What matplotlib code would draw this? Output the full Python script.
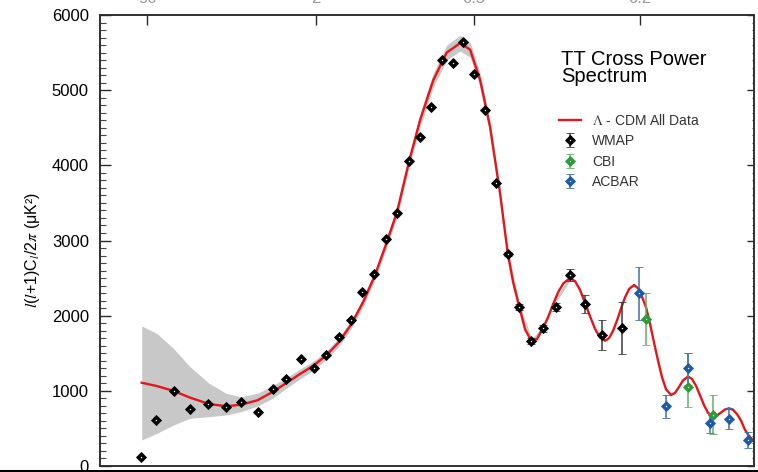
import numpy as np
import matplotlib
matplotlib.use("Agg")
import matplotlib.pyplot as plt
from matplotlib.lines import Line2D
from matplotlib.ticker import MultipleLocator, NullLocator
from matplotlib.legend_handler import HandlerTuple

plt.rcParams['font.family'] = ['Liberation Sans', 'DejaVu Sans']
plt.rcParams['mathtext.fontset'] = 'stix'

# ---------------- data ----------------
# WMAP binned TT spectrum: multipole, l(l+1)C_l/2pi [uK^2], 1-sigma error
wmap_l = [2, 2.5, 3.3, 4.2, 5.5, 7.2, 9, 11.5, 14.4, 17.6,
          22, 27, 32, 39, 47, 55, 66, 79, 94, 112,
          131, 151, 173, 196, 220, 247, 275, 304, 337, 370,
          406, 445, 490, 541, 597, 665, 749]
wmap_val = [115, 612, 1000, 758, 820, 789, 855, 723, 1020, 1157,
            1419, 1299, 1477, 1720, 1942, 2315, 2554, 3020, 3370, 4061,
            4371, 4780, 5401, 5357, 5636, 5215, 4736, 3769, 2820, 2119,
            1667, 1832, 2119, 2541, 2155, 1743, 1832]
wmap_err = [np.nan] * 28 + [30, 40, 40, 45, 55, 82, 126, 195, 348]

# CBI band powers with lower / upper limits
cbi_l = [853, 1061, 1189]
cbi_val = [1956, 1055, 678]
cbi_lo = [1610, 789, 426]
cbi_hi = [2306, 1499, 944]

# ACBAR band powers with lower / upper limits
acbar_l = [824, 948, 1061, 1175, 1281, 1391]
acbar_val = [2297, 798, 1300, 576, 625, 346]
acbar_lo = [1942, 643, 1077, 443, 492, 235]
acbar_hi = [2643, 944, 1499, 701, 768, 456]

# Best-fit Lambda-CDM model
model_l = [2.02, 2.53, 3.25, 4.17, 5.55, 7.17, 8.97, 11.5, 14.4, 17.6,
           21.8, 26.6, 32.2, 38.7, 46.8, 56.1, 67.1, 79.2, 93.4, 111.8,
           130.9, 156.0, 183.4, 212.9, 236.5, 261.3, 287.4, 314.7, 336.6, 352.1,
           370.0, 388.4, 409.5, 426.6, 445.3, 463.1, 480.2, 497.6, 516.4, 540.7,
           559.1, 577.9, 597.0, 616.4, 636.1, 656.1, 676.4, 692.9, 709.6, 726.5,
           743.6, 760.8, 778.3, 800.4, 818.3, 836.4, 854.8, 873.3, 892.0, 910.9,
           930.0, 949.3, 973.8, 993.5, 1013.5, 1033.6, 1059.1, 1079.7, 1100.5, 1121.4,
           1142.6, 1164.0, 1191.1, 1212.9, 1235.0, 1257.2, 1279.6, 1302.3, 1325.1, 1348.1,
           1371.3, 1394.7, 1418.4, 1448.2]
model_val = [1108, 1064, 1000, 910, 825, 795, 815, 875, 985, 1100,
             1225, 1335, 1470, 1640, 1880, 2180, 2540, 2950, 3380, 4050,
             4600, 5135, 5500, 5625, 5540, 5140, 4510, 3630, 2830, 2450,
             2130, 1820, 1650, 1689, 1830, 1977, 2150, 2310, 2430, 2500,
             2459, 2343, 2170, 1991, 1824, 1708, 1667, 1701, 1798, 1938,
             2097, 2245, 2355, 2408, 2366, 2250, 2110, 1890, 1640, 1400,
             1180, 1020, 945, 973, 1053, 1140, 1190, 1157, 1066, 940,
             809, 707, 656, 672, 712, 752, 768, 747, 689, 604,
             480, 400, 345, 320]

# Cosmic-variance band around the model
band_l = [2.02, 2.53, 3.25, 4.17, 5.55, 7.17, 8.97, 11.5, 14.4, 17.6,
          21.8, 26.6, 32.2, 38.7, 46.8, 56.1, 67.1, 79.2, 93.4, 111.8,
          130.9, 156.0, 183.4, 212.9, 236.5, 261.3, 287.4, 314.7, 336.6, 370.0,
          409.5, 445.3, 480.2, 540.7]
band_hi = [1862, 1765, 1565, 1321, 1100, 967, 922, 967, 1070, 1170,
           1290, 1395, 1525, 1695, 1935, 2240, 2600, 3020, 3450, 4130,
           4690, 5230, 5600, 5730, 5640, 5230, 4590, 3700, 2890, 2180,
           1690, 1860, 2180, 2530]
band_lo = [346, 434, 545, 634, 656, 678, 723, 798, 900, 1030,
           1160, 1275, 1415, 1585, 1825, 2120, 2480, 2880, 3310, 3970,
           4510, 5040, 5400, 5520, 5440, 5050, 4430, 3560, 2770, 2080,
           1610, 1800, 2120, 2470]

# Angular-scale ticks on the top axis
top_tick_l = [2.2, 27.7, 246, 827]
top_tick_labels = ['90', '2', '0.5', '0.2']

# ---------------- multipole axis: log at low l, sqrt at high l ----------------
L0 = 110.0
R0 = np.sqrt(L0)


def l_forward(l):
    l = np.clip(np.asarray(l, dtype=float), 1e-3, None)
    return np.where(l >= L0, np.sqrt(l), R0 + 0.5 * R0 * np.log(l / L0))


def l_inverse(u):
    u = np.asarray(u, dtype=float)
    hi = np.square(np.maximum(u, R0))
    lo = L0 * np.exp(np.minimum(u - R0, 0.0) / (0.5 * R0))
    return np.where(u >= R0, hi, lo)


W, H = 758, 472
fig = plt.figure(figsize=(W / 100, H / 100), dpi=100)
ax = fig.add_axes([100 / W, 6 / H, 654 / W, 451 / H])
ax.set_xscale('function', functions=(l_forward, l_inverse))
ax.set_xlim(1.08, 1424)
ax.set_ylim(0, 6000)

ax2 = ax.twinx()
ax2.set_ylim(0, 6000)

# band and model
ax.fill_between(band_l, band_lo, band_hi, color='#c8c8c8', lw=0, zorder=1)
ax.plot(model_l, model_val, color='#e2161b', lw=1.7, zorder=3,
        solid_joinstyle='round')

# data points
eb_kw = dict(fmt='D', markersize=5.5, capsize=2.6, elinewidth=1.1, capthick=1.1,
             markeredgewidth=0.6, zorder=4)
wm = ax.errorbar(wmap_l, wmap_val, yerr=wmap_err, color='black', ecolor='#3c3c3c', **eb_kw)
cbi_err = [np.subtract(cbi_val, cbi_lo), np.subtract(cbi_hi, cbi_val)]
cb = ax.errorbar(cbi_l, cbi_val, yerr=cbi_err, color='#2f9a3b', ecolor='#66b066', **eb_kw)
acbar_err = [np.subtract(acbar_val, acbar_lo), np.subtract(acbar_hi, acbar_val)]
ac = ax.errorbar(acbar_l, acbar_val, yerr=acbar_err, color='#1c5ba8', ecolor='#3f70b2', **eb_kw)
dot_kw = dict(marker='o', color='white', markersize=1.0, markeredgewidth=0, linestyle='none')
for xs, ys in ((wmap_l, wmap_val), (cbi_l, cbi_val), (acbar_l, acbar_val)):
    ax.plot(xs, ys, zorder=5, **dot_kw)

# axes styling
for a in (ax, ax2):
    for s in a.spines.values():
        s.set_color('#2a2a2a')
        s.set_linewidth(1.1)

ax.yaxis.set_major_locator(MultipleLocator(1000))
ax.yaxis.set_minor_locator(MultipleLocator(100))
ax.tick_params(axis='y', which='major', direction='in', length=8, width=1,
               colors='#2a2a2a', labelcolor='black', labelsize=12, pad=8)
ax.tick_params(axis='y', which='minor', direction='in', length=4.5, width=0.8, colors='#444444')

ax2.yaxis.set_major_locator(MultipleLocator(1000))
ax2.yaxis.set_minor_locator(MultipleLocator(100))
ax2.tick_params(axis='y', which='major', direction='in', length=5, width=1,
                colors='#2a2a2a', labelright=False)
ax2.tick_params(axis='y', which='minor', direction='in', length=1.5, width=0.8, colors='#555555')

ax.set_xticks(top_tick_l, labels=top_tick_labels)
ax.xaxis.set_minor_locator(NullLocator())
ax.tick_params(axis='x', which='major', bottom=False, labelbottom=False, top=True,
               labeltop=True, direction='in', length=7, width=1, colors='#2a2a2a',
               labelcolor='#999999', labelsize=12, pad=6.5)

fig.text(33 / W, 1 - 250 / H, r'$l$($l$+1)C$_l$/2$\pi$ (μK²)', rotation=90,
         ha='center', va='center', fontsize=11.5)

fig.text(561 / W, 1 - 50 / H, 'TT Cross Power\nSpectrum', ha='left', va='top',
         fontsize=14.5, linespacing=0.9)

dot = Line2D([], [], **dot_kw)
red = Line2D([], [], color='#e2161b', lw=1.7)
leg = ax.legend([red, (wm, dot), (cb, dot), (ac, dot)],
                [r'$\Lambda$ - CDM All Data', 'WMAP', 'CBI', 'ACBAR'],
                handler_map={tuple: HandlerTuple(ndivide=1, pad=0)},
                loc='upper left', bbox_to_anchor=(559 / W, 1 - 113 / H),
                bbox_transform=fig.transFigure, frameon=False, fontsize=10,
                handlelength=1.6, handletextpad=0.8, labelspacing=0.45,
                borderpad=0, borderaxespad=0)
for t in leg.get_texts():
    t.set_color('#333333')

fig.add_artist(Line2D([0, 1], [1.5 / H, 1.5 / H], transform=fig.transFigure,
                      color='black', lw=2.2))

fig.savefig('out.png', dpi=100)
